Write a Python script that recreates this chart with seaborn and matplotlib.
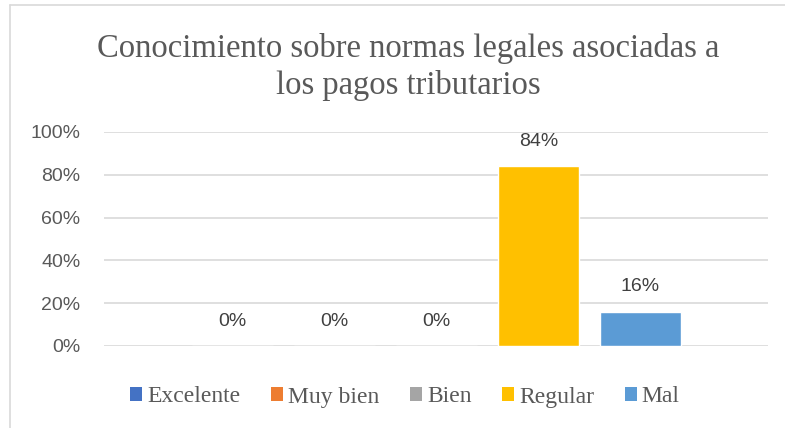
import matplotlib
matplotlib.use("Agg")
import matplotlib.pyplot as plt
import seaborn as sns
import pandas as pd
from matplotlib.lines import Line2D
from matplotlib.patches import Patch

# -------------------------
# Data
# -------------------------

categories = ["Excelente", "Muy bien", "Bien", "Regular", "Mal"]
values = [0.0, 0.0, 0.0, 0.84, 0.16]
colors = ["#4472C4", "#ED7D31", "#A5A5A5", "#FFC000", "#5B9BD5"]
y_ticks = [0, 0.2, 0.4, 0.6, 0.8, 1.0]
y_tick_labels = ["0%", "20%", "40%", "60%", "80%", "100%"]
title = "Conocimiento sobre normas legales asociadas a\nlos pagos tributarios"

df = pd.DataFrame({"categoria": categories, "valor": values})

sns.set_theme(style="white")
plt.rcParams["font.family"] = ["Liberation Sans", "DejaVu Sans"]

TEXT = "#595959"
SERIF = ["Liberation Serif", "DejaVu Serif"]

fig = plt.figure(figsize=(7.85, 4.28), dpi=100)
ax = fig.add_axes([104 / 785, 82 / 428, 664 / 785, 214 / 428])

sns.barplot(
    data=df, x="categoria", y="valor", hue="categoria",
    palette=colors, width=0.79, legend=False, ax=ax, saturation=1,
)

ax.set_xlim(-1.26, 5.25)
ax.set_ylim(0, 1)
ax.set_yticks(y_ticks)
ax.set_yticklabels(y_tick_labels, color=TEXT, fontsize=14)
ax.set_xticks([])
ax.set_xlabel("")
ax.set_ylabel("")
ax.tick_params(axis="y", length=0, pad=17)
ax.yaxis.grid(True, color="#D9D9D9", linewidth=1.2)
ax.set_axisbelow(True)
for s in ax.spines.values():
    s.set_visible(False)

# value labels
for i, v in enumerate(values):
    ax.annotate(f"{v:.0%}", (i, v), xytext=(0, 25), textcoords="offset pixels",
                ha="center", va="center", fontsize=14, color="#404040")

fig.text(408 / 785, 1 - 67 / 428, title, ha="center", va="center",
         fontsize=23.5, color=TEXT, family=SERIF, linespacing=1.23,
         multialignment="center")

handles = [Patch(facecolor=c, edgecolor="none") for c in colors]
fig.legend(handles, categories, loc="center", bbox_to_anchor=(405 / 785, 1 - 397 / 428),
           ncol=5, frameon=False, prop={"family": SERIF, "size": 17},
           labelcolor=TEXT, handlelength=0.51, handleheight=0.51, handletextpad=0.21,
           columnspacing=1.3)

# partial chart frame (top and left edges)
fig.add_artist(Line2D([10 / 785, 1], [1 - 5 / 428, 1 - 5 / 428], color="#D9D9D9", lw=1.2))
fig.add_artist(Line2D([10 / 785, 10 / 785], [0, 1 - 5 / 428], color="#D9D9D9", lw=1.2))

fig.savefig("out.png", dpi=100)
